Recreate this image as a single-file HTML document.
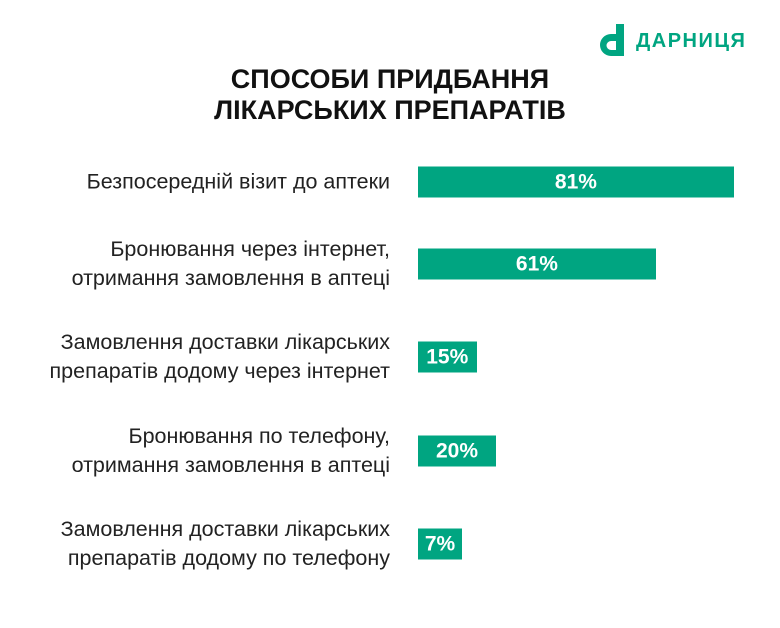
<!DOCTYPE html>
<html><head><meta charset="utf-8"><style>
body{margin:0;width:780px;height:628px;background:#fff;font-family:"Liberation Sans",sans-serif;position:relative;overflow:hidden}
.t{position:absolute;left:0;width:780px;text-align:center;font-weight:bold;font-size:27px;color:#111;line-height:31px;top:64px}
.lbl{position:absolute;right:390px;text-align:right;font-size:21.5px;line-height:29px;color:#222;transform:translateY(-50%);white-space:nowrap}
.bar{position:absolute;left:418px;height:31px;background:#00a581;color:#fff;font-weight:bold;font-size:21px;line-height:31px;text-align:center;transform:translateY(-50%)}
</style></head><body>
<div style="position:absolute;left:598px;top:22px;width:170px;height:36px">
<svg width="30" height="34" viewBox="0 0 30 34" style="position:absolute;left:0;top:2px">
<path d="M18 0 h8 v32 h-13 a11 11 0 0 1 0 -22 h5 z M13 17 a4.5 4.5 0 0 0 0 9 h5 v-9 z" fill="#00a581" fill-rule="evenodd"/></svg>
<span style="position:absolute;left:38px;top:8px;font-weight:bold;font-size:20px;letter-spacing:1.5px;color:#00a581">ДАРНИЦЯ</span>
</div>
<div class="t">СПОСОБИ ПРИДБАННЯ<br>ЛІКАРСЬКИХ ПРЕПАРАТІВ</div>
<div id="chart"></div>
<script>
const categories=["Безпосередній візит до аптеки","Бронювання через інтернет,<br>отримання замовлення в аптеці","Замовлення доставки лікарських<br>препаратів додому через інтернет","Бронювання по телефону,<br>отримання замовлення в аптеці","Замовлення доставки лікарських<br>препаратів додому по телефону"];
const values=[81,61,15,20,7];
const valueLabels=["81%","61%","15%","20%","7%"];
const c=document.getElementById('chart');
const x=v=>Math.max(v*3.9,44);
const y=i=>i===0?182:170+i*93.5;
values.forEach((v,i)=>{
 const l=document.createElement('div');l.className='lbl';
 
 
 l.style.top=y(i)+'px';l.innerHTML=categories[i];c.appendChild(l);
 const b=document.createElement('div');b.className='bar';
 
 
 b.style.top=y(i)+'px';b.style.width=x(v)+'px';b.textContent=valueLabels[i];c.appendChild(b);
});
</script>
</body></html>
